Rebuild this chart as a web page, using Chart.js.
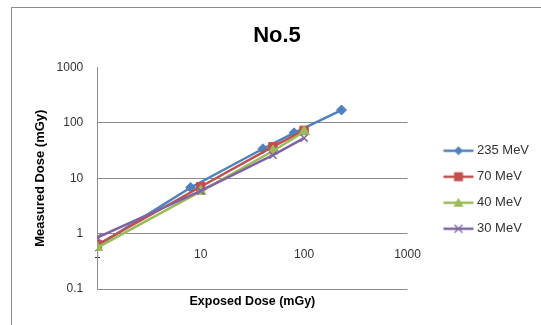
<!DOCTYPE html>
<html>
<head>
<meta charset="utf-8">
<script src="https://cdn.jsdelivr.net/npm/chart.js"></script>
<style>
  html, body { margin: 0; padding: 0; background: #fff; overflow: hidden; }
  #wrap { position: relative; width: 541px; height: 325px; }
  #frame { position: absolute; left: 11px; top: 7px; width: 600px; height: 400px; border: 1px solid #8c8c8c; }
  #chart { position: absolute; left: 0; top: 0; }
</style>
</head>
<body>
<div id="wrap">
  <div id="frame"></div>
  <canvas id="chart" width="541" height="325"></canvas>
</div>
<script>
const TITLE = 'No.5';
const X_TITLE = 'Exposed Dose (mGy)';
const Y_TITLE = 'Measured Dose (mGy)';

const X_TICKS = [1, 10, 100, 1000];
const Y_TICKS = [0.1, 1, 10, 100, 1000];

const SERIES_NAMES = ['235 MeV', '70 MeV', '40 MeV', '30 MeV'];

// exposed dose (x) / measured dose (y)
const x235 = [1, 8, 40, 80, 230];
const y235 = [0.6, 6.8, 34, 66, 170];
const x70 = [1, 10, 50, 100];
const y70 = [0.63, 7.0, 37, 73];
const x40 = [1, 10, 50, 100];
const y40 = [0.56, 5.8, 31, 69];
const x30 = [1, 10, 50, 100];
const y30 = [0.85, 5.9, 26, 53];

const COLORS = ['#4F81BD', '#C0504D', '#9BBB59', '#8064A2'];
const STYLES = ['rectRot', 'rect', 'triangle', 'crossRot'];
const RADII = [5, 6, 6, 5];

const FONT = '"Liberation Sans", Arial, sans-serif';
const GRID = '#8c8c8c';

function pts(xs, ys) {
  return xs.map((x, i) => ({ x: x, y: ys[i] }));
}

// legend icon: short line with the marker in the middle
function legendIcon(color, style) {
  const c = document.createElement('canvas');
  c.width = 60;
  c.height = 14;
  const g = c.getContext('2d');
  g.strokeStyle = color;
  g.fillStyle = color;
  g.lineWidth = 2.5;
  g.beginPath();
  g.moveTo(28, 7);
  g.lineTo(58, 7);
  g.stroke();
  const cx = 43, cy = 7;
  g.beginPath();
  if (style === 'rectRot') {
    g.moveTo(cx, cy - 4.5); g.lineTo(cx + 4.5, cy); g.lineTo(cx, cy + 4.5); g.lineTo(cx - 4.5, cy);
    g.closePath(); g.fill();
  } else if (style === 'rect') {
    g.rect(cx - 4.5, cy - 4.5, 9, 9); g.fill();
  } else if (style === 'triangle') {
    g.moveTo(cx, cy - 5); g.lineTo(cx + 5, cy + 4); g.lineTo(cx - 5, cy + 4);
    g.closePath(); g.fill();
  } else {
    g.lineWidth = 1.3;
    g.moveTo(cx - 4, cy - 4); g.lineTo(cx + 4, cy + 4);
    g.moveTo(cx + 4, cy - 4); g.lineTo(cx - 4, cy + 4);
    g.stroke();
  }
  return c;
}

const icons = COLORS.map((c, i) => legendIcon(c, STYLES[i]));

const datasets = [pts(x235, y235), pts(x70, y70), pts(x40, y40), pts(x30, y30)].map((d, i) => ({
  label: SERIES_NAMES[i],
  data: d,
  borderColor: COLORS[i],
  backgroundColor: COLORS[i],
  pointBackgroundColor: COLORS[i],
  pointBorderColor: COLORS[i],
  pointBorderWidth: STYLES[i] === 'crossRot' ? 1.5 : 1,
  pointStyle: STYLES[i],
  pointRadius: RADII[i],
  borderWidth: 2.5,
  tension: 0,
  order: 4 - i, // later series drawn on top, like the original
}));

/* global Chart */
new Chart(document.getElementById('chart'), {
  type: 'line',
  data: { datasets: datasets },
  options: {
    responsive: false,
    animation: false,
    devicePixelRatio: 1,
    layout: { padding: { left: 16, right: 3, top: 0, bottom: 0 } },
    scales: {
      x: {
        type: 'logarithmic',
        min: 1,
        max: 1000,
        position: { y: 1 },
        afterBuildTicks: (s) => { s.ticks = X_TICKS.map((v) => ({ value: v })); },
        ticks: {
          callback: (v) => String(v),
          color: '#333',
          font: { family: FONT, size: 12 },
          padding: 14,
          maxRotation: 0,
        },
        grid: { display: false, drawTicks: false },
        border: { display: false },
      },
      x2: {
        type: 'logarithmic',
        min: 1,
        max: 1000,
        position: 'bottom',
        ticks: { display: false },
        grid: { display: false, drawTicks: false },
        border: { display: false },
        title: {
          display: true,
          text: X_TITLE,
          color: '#000',
          font: { family: FONT, size: 12.5, weight: 'bold' },
          padding: { top: 5, bottom: 16 },
        },
      },
      y: {
        type: 'logarithmic',
        min: 0.1,
        max: 1000,
        afterBuildTicks: (s) => { s.ticks = Y_TICKS.map((v) => ({ value: v })); },
        ticks: {
          callback: (v) => String(v),
          color: '#333',
          font: { family: FONT, size: 12 },
          padding: 14,
        },
        grid: {
          color: (ctx) => (ctx.tick && ctx.tick.value === 1000 ? 'rgba(0,0,0,0)' : GRID),
          lineWidth: 1,
          drawTicks: false,
        },
        border: { display: true, color: GRID, width: 1 },
        title: {
          display: true,
          text: Y_TITLE,
          color: '#000',
          font: { family: FONT, size: 13, weight: 'bold' },
          padding: { top: 17, bottom: -6 },
        },
      },
    },
    plugins: {
      title: {
        display: true,
        text: TITLE,
        color: '#000',
        font: { family: FONT, size: 22, weight: 'bold' },
        padding: { top: 23, bottom: 18 },
      },
      legend: {
        position: 'right',
        fullSize: false,
        title: { display: true, text: ' ', font: { size: 10 }, padding: 5.5 },
        labels: {
          usePointStyle: true,
          pointStyleWidth: 50,
          padding: 13,
          color: '#333',
          font: { family: FONT, size: 13 },
          sort: (a, b) => a.datasetIndex - b.datasetIndex,
          generateLabels: (chart) => {
            const items = Chart.defaults.plugins.legend.labels.generateLabels(chart);
            items.forEach((it) => { it.pointStyle = icons[it.datasetIndex]; });
            return items;
          },
        },
      },
      tooltip: { enabled: false },
    },
  },
});
</script>
</body>
</html>
